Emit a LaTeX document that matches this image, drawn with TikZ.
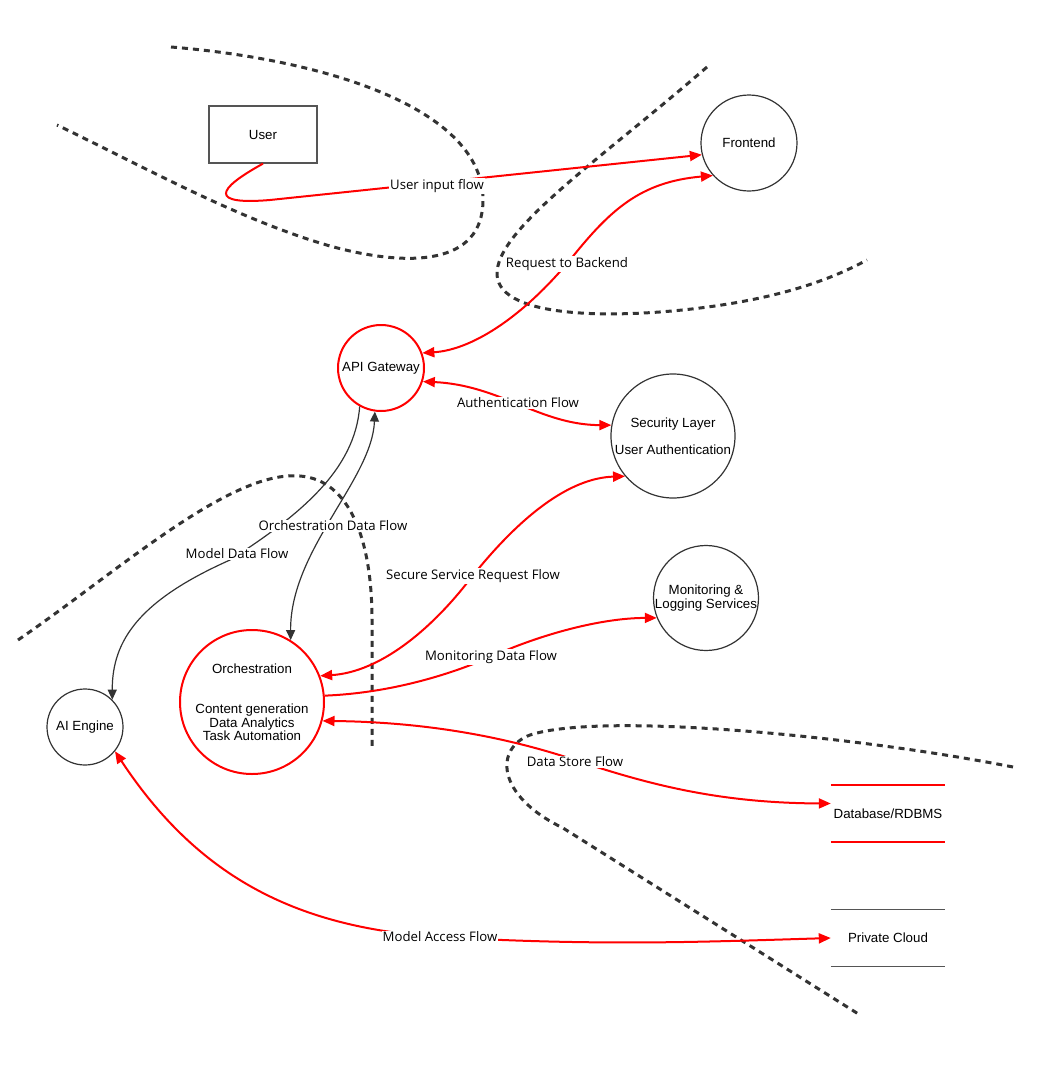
\documentclass[tikz,border=0pt]{standalone}
\usepackage{fontspec}
\setmainfont{Liberation Sans}
\newfontfamily\lblfont{Open Sans}
\usetikzlibrary{arrows.meta,backgrounds}
\definecolor{dk}{HTML}{333333}
\definecolor{boxgray}{HTML}{555555}
\begin{document}
\begin{tikzpicture}[x=1pt,y=-1pt,
  nfont/.style={font=\fontsize{13.3}{13.5}\selectfont},
  circ/.style={circle,draw=dk,line width=1.2pt,inner sep=0pt,align=center,nfont},
  rcirc/.style={circ,draw=red,line width=2pt},
  rtip/.tip={Triangle[length=12pt,width=10pt]},
  dtip/.tip={Triangle[length=10pt,width=9pt]},
  rflow/.style={draw=red,line width=2pt,-rtip},
  rboth/.style={draw=red,line width=2pt,rtip-rtip},
  dflow/.style={draw=dk,line width=1.2pt,-dtip},
  dboth/.style={draw=dk,line width=1.2pt,dtip-dtip},
  lbl/.style={fill=white,inner sep=1pt,font=\lblfont\fontsize{13.2}{14}\selectfont},
  bound/.style={draw=dk,line width=3pt,dash pattern=on 6pt off 5pt},
  store/.style={minimum width=114pt,minimum height=57pt,inner sep=0pt,nfont},
]
\path[use as bounding box] (0,0) rectangle (1041,1071);

% nodes
\node[draw=boxgray,line width=1.3pt,minimum width=108pt,minimum height=57pt,inner sep=0pt,nfont] (user) at (263,134.5) {User};
\node[circ,minimum size=96pt] (fe) at (749,143) {Frontend};
\node[rcirc,minimum size=86pt] (api) at (381,368) {API Gateway};
\node[circ,minimum size=124pt] (sec) at (673,436) {Security Layer\\[13.5pt]User Authentication};
\node[circ,minimum size=105pt] (mon) at (706,598) {Monitoring \&\\Logging Services};
\node[rcirc,minimum size=144pt] (orch) at (252,702) {Orchestration\\[27pt]Content generation\\Data Analytics\\Task Automation};
\node[circ,minimum size=76pt] (ai) at (85,727) {AI Engine};
\node[store] (db) at (888,813.5) {Database/RDBMS};
\draw[red,line width=2pt] (db.north west) -- (db.north east) (db.south west) -- (db.south east);
\node[store,minimum height=56pt] (pc) at (888,938) {Private Cloud};
\draw[boxgray,line width=1.3pt] (pc.north west) -- (pc.north east) (pc.south west) -- (pc.south east);

% trust boundaries
\begin{scope}[on background layer]
\path[bound] (171,47) .. controls (330,60) and (483,110) .. (483,200) .. controls (483,265) and (410,268) .. (330,246) .. controls (240,220) and (150,170) .. (57,125);
\path[bound] (707,67) .. controls (600,160) and (495,230) .. (497,275) .. controls (500,320) and (620,318) .. (700,308) .. controls (780,298) and (830,280) .. (867,260);
\path[bound] (18,640) .. controls (120,570) and (230,470) .. (300,476) .. controls (350,480) and (372,540) .. (372,620) -- (372,747);
\path[bound] (1013,767) .. controls (850,735) and (600,712) .. (530,735) .. controls (495,748) and (495,795) .. (563,828) -- (860,1015);
\end{scope}

% connectors
\path[rflow] (user.south) .. controls (215,190) and (210,205) .. (270,200) -- (fe.194);
\path[rboth] (api.20) .. controls (470,350) and (520,320) .. (570,260) .. controls (610,210) and (640,182) .. (fe.222);
\path[rboth] (api.-18) .. controls (500,385) and (540,425) .. (sec.170);
\path[dboth] (api.262) .. controls (372,480) and (290,550) .. (orch.58.5);
\path[dflow] (api.241) .. controls (355,470) and (300,515) .. (230,560) .. controls (140,600) and (112,640) .. (ai.45);
\path[rboth] (sec.220) .. controls (570,478) and (520,515) .. (467,583) .. controls (430,630) and (380,672) .. (orch.21);
\path[rflow] (orch.5) .. controls (390,693) and (450,675) .. (495,655) .. controls (540,635) and (600,618) .. (mon.202);
\path[rboth] (orch.-15) .. controls (420,722) and (500,735) .. (575,760) .. controls (650,785) and (720,803) .. ([yshift=10pt]db.west);
\path[rboth] (ai.-39) .. controls (200,880) and (300,928) .. (440,937) .. controls (600,946) and (700,942) .. (pc.west);

% labels
\node[lbl] (l1) at (437,186) {User input flow};
\node[lbl] (l2) at (567,264) {Request to Backend};
\node[lbl] (l3) at (518,403) {Authentication Flow};
\node[lbl] (l4) at (333,526) {Orchestration Data Flow};
\node[lbl] (l5) at (237,554) {Model Data Flow};
\node[lbl] (l6) at (473,576) {Secure Service Request Flow};
\node[lbl] (l7) at (491,657) {Monitoring Data Flow};
\node[lbl] (l8) at (575,762) {Data Store Flow};
\node[lbl] (l9) at (440,937) {Model Access Flow};
\end{tikzpicture}
\end{document}
